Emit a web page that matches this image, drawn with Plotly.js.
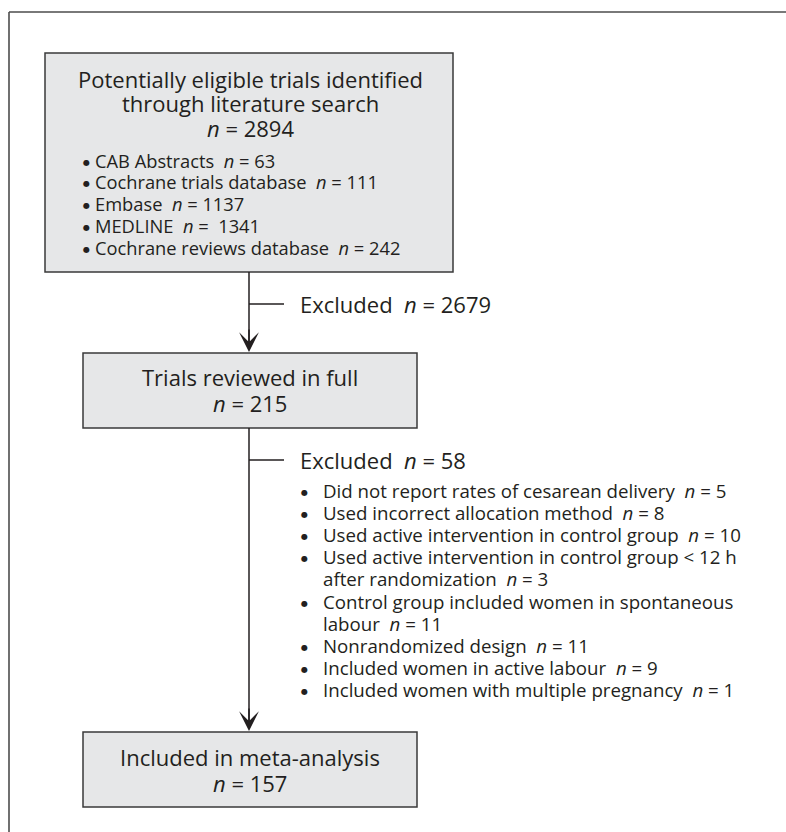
<!DOCTYPE html>
<html>
<head>
<meta charset="utf-8">
<script src="https://cdn.plot.ly/plotly-3.0.1.min.js"></script>
<style>html,body{margin:0;padding:0;background:#fff;}#chart{width:786px;height:832px;}</style>
</head>
<body>
<div id="chart"></div>
<script>
// ---- data ----
const stageTitles = [
  ['Potentially eligible trials identified', 'through literature search'],
  ['Trials reviewed in full'],
  ['Included in meta-analysis']
];
const stageCounts = [2894, 215, 157];
const sourceNames = ['CAB Abstracts', 'Cochrane trials database', 'Embase', 'MEDLINE', 'Cochrane reviews database'];
const sourceCounts = [63, 111, 1137, 1341, 242];
const excludedCounts = [2679, 58];
const reasonNames = [
  ['Did not report rates of cesarean delivery'],
  ['Used incorrect allocation method'],
  ['Used active intervention in control group'],
  ['Used active intervention in control group < 12 h', 'after randomization'],
  ['Control group included women in spontaneous', 'labour'],
  ['Nonrandomized design'],
  ['Included women in active labour'],
  ['Included women with multiple pregnancy']
];
const reasonCounts = [5, 8, 10, 3, 11, 11, 9, 1];

// ---- layout geometry ----
const W = 786, H = 832;
const FONT = 'Open Sans, Noto Sans, sans-serif';
const TXT = '#231f20';
const BIG = 22, SMALL = 18.3, SMALL2 = 18.7;
const boxes = [
  {x0: 45, x1: 453, y0: 53, y1: 272},
  {x0: 83, x1: 417, y0: 353, y1: 428},
  {x0: 83, x1: 417, y0: 732, y1: 807}
];
const cx = 249;
const nb = '\u00a0';
const nTxt = (v, extra) => '<i>n</i>' + nb + '=' + nb + (extra || '') + v;

const shapes = [];
const annotations = [];

// outer frame (top and left only)
shapes.push({type: 'line', xref: 'x', yref: 'y', x0: 9, x1: W, y0: 12, y1: 12, line: {color: '#4d4d4d', width: 1.6}});
shapes.push({type: 'line', xref: 'x', yref: 'y', x0: 9, x1: 9, y0: 12, y1: H, line: {color: '#4d4d4d', width: 1.6}});

// boxes
boxes.forEach(b => shapes.push({type: 'rect', xref: 'x', yref: 'y', x0: b.x0, x1: b.x1, y0: b.y0, y1: b.y1,
  fillcolor: '#e6e7e8', line: {color: '#3a3a3a', width: 1.5}, layer: 'below'}));

function txt(x, y, text, size, anchor, family) {
  annotations.push({x: x, y: y, xref: 'x', yref: 'y', text: text, showarrow: false,
    xanchor: anchor || 'center', yanchor: 'middle', align: 'left',
    font: {family: family || FONT, size: size, color: TXT}});
}
function bullet(x, y) {
  txt(x, y, '●', 8, 'center', 'DejaVu Sans, sans-serif');
}

// box titles
const titleY = [[79, 103, 128], [377, 403], [757, 783]];
stageTitles.forEach((lines, i) => {
  lines.forEach((l, j) => txt(cx + 1, titleY[i][j], l, BIG));
  txt(cx + 1, titleY[i][lines.length], nTxt(stageCounts[i]), BIG);
});

// sources list
sourceNames.forEach((s, i) => {
  const extra = s === 'MEDLINE' ? nb : '';
  const y = 160 + i * 21.8;
  bullet(86, y + 2);
  txt(93, y, s + nb + nb + nTxt(sourceCounts[i], extra), SMALL, 'left');
});

// arrows
const arrows = [[boxes[0].y1, boxes[1].y0 - 1], [boxes[1].y1, boxes[2].y0 - 1]];
arrows.forEach(a => {
  shapes.push({type: 'line', xref: 'x', yref: 'y', x0: cx, x1: cx, y0: a[0], y1: a[1] - 8, line: {color: '#231f20', width: 1.5}});
  annotations.push({x: cx, y: a[1], ax: cx, ay: a[1] - 24, xref: 'x', yref: 'y', axref: 'x', ayref: 'y',
    text: '', showarrow: true, arrowhead: 3, arrowsize: 2.2, arrowwidth: 1.5, arrowcolor: '#231f20', standoff: 0});
});

// exclusion ticks and labels
const exclY = [304, 460];
excludedCounts.forEach((c, i) => {
  shapes.push({type: 'line', xref: 'x', yref: 'y', x0: cx, x1: 284, y0: exclY[i], y1: exclY[i], line: {color: '#231f20', width: 1.5}});
  txt(298, exclY[i], 'Excluded' + nb + nb + nTxt(c), BIG, 'left');
});

// exclusion reasons
let line = 0;
reasonNames.forEach((lines, i) => {
  const y0 = 490 + line * 22.2;
  bullet(304, y0 + 2);
  lines.forEach((l, j) => {
    const isLast = j === lines.length - 1;
    txt(321, 490 + (line + j) * 22.2, l + (isLast ? nb + nb + nTxt(reasonCounts[i]) : ''), SMALL2, 'left');
  });
  line += lines.length;
});

const layout = {
  width: W, height: H,
  margin: {l: 0, r: 0, t: 0, b: 0},
  paper_bgcolor: '#ffffff', plot_bgcolor: '#ffffff',
  xaxis: {range: [0, W], visible: false, fixedrange: true},
  yaxis: {range: [H, 0], visible: false, fixedrange: true},
  showlegend: false,
  shapes: shapes,
  annotations: annotations
};

Plotly.newPlot('chart', [], layout, {staticPlot: true, displayModeBar: false});
</script>
</body>
</html>
